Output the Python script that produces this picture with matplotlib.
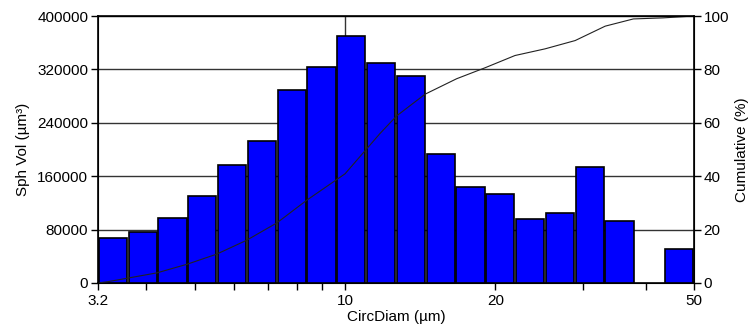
import matplotlib
matplotlib.use("Agg")
import matplotlib.pyplot as plt
import numpy as np
from matplotlib.ticker import FixedLocator, FixedFormatter, NullFormatter

plt.rcParams['font.family'] = ['Liberation Sans', 'DejaVu Sans']

# bar heights per log bin (3.2 .. 50 um, 20 bins)
vol = [67000, 76500, 97400, 129700, 176400, 213200, 288700, 324000, 370700, 329500,
       309600, 193800, 143600, 133700, 95900, 104800, 174400, 92400, 0, 51200]

# cumulative curve
cum_d = [3.2, 3.35, 4.2, 4.82, 5.53, 6.35, 7.3, 8.38, 10.0, 11.75, 12.69, 14.46,
         16.73, 19.07, 21.9, 25.16, 28.9, 33.2, 37.8, 43.4, 50.0]
cum_p = [0.0, 0.5, 3.8, 7.0, 10.8, 16.0, 22.5, 31.0, 40.9, 56.0, 62.6, 70.7,
         76.5, 80.6, 85.2, 87.7, 90.8, 96.2, 98.9, 99.3, 100.0]

major = [3.2, 10, 20, 50]
minor = [4, 5, 6, 7, 8, 9, 30, 40]

edges = np.geomspace(3.2, 50, len(vol) + 1)
r = edges[1] / edges[0]
shrink = r ** 0.025
lefts = edges[:-1] * shrink
widths = edges[1:] / shrink - lefts
# empty bins get no outline
lws = [1.2 if v > 0 else 0 for v in vol]

fig = plt.figure(figsize=(7.52, 3.27), dpi=100)
ax = fig.add_axes([98 / 752, 44 / 327, 596 / 752, 267 / 327])
ax.set_xscale('log')
ax.set_xlim(3.2, 50)
ax.set_ylim(0, 400000)

ax.bar(lefts, vol, width=widths, align='edge', color='#0000ff',
       edgecolor='black', linewidth=lws, zorder=3)

for y in range(80000, 400001, 80000):
    ax.axhline(y, color='#333333', lw=1.0, zorder=1)
ax.axvline(10, color='#333333', lw=1.0, zorder=1)

ax.xaxis.set_major_locator(FixedLocator(major))
ax.xaxis.set_major_formatter(FixedFormatter([str(m) for m in major]))
ax.xaxis.set_minor_locator(FixedLocator(minor))
ax.xaxis.set_minor_formatter(NullFormatter())
ax.tick_params(axis='x', which='both', length=5, width=1, labelsize=11, pad=3)
ax.set_yticks(range(0, 400001, 80000))
ax.tick_params(axis='y', length=5, width=1, labelsize=11, pad=2)
ax.set_xlabel('CircDiam (µm)', fontsize=11, labelpad=1)
ax.set_ylabel('Sph Vol (µm³)', fontsize=11, labelpad=5)
for s in ax.spines.values():
    s.set_linewidth(1.2)

ax2 = ax.twinx()
ax2.set_ylim(0, 100)
ax2.set_yticks(range(0, 101, 20))
ax2.tick_params(axis='y', length=5, width=1, labelsize=11, pad=2)
ax2.set_ylabel('Cumulative (%)', fontsize=11, labelpad=4)
ax2.plot(cum_d, cum_p, color='#222222', lw=0.8)

fig.savefig('out.png', dpi=100)
